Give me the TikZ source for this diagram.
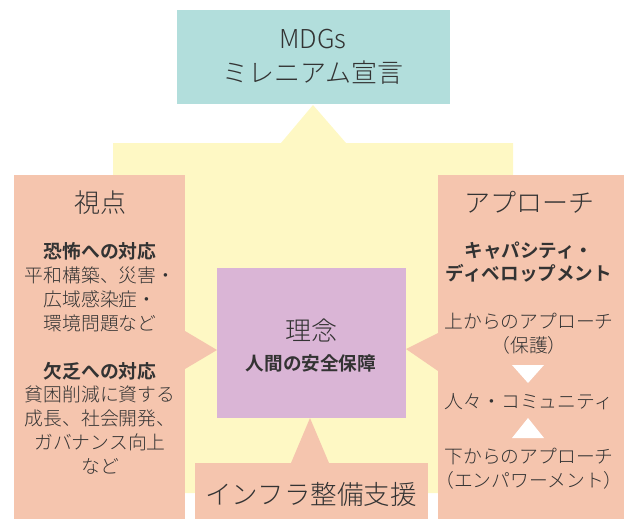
\documentclass[tikz,border=0pt]{standalone}
\usepackage{fontspec}
\setmainfont{Noto Sans CJK JP Light}[BoldFont={Noto Sans CJK JP Bold}]
\definecolor{tealbox}{HTML}{B2DEDC}
\definecolor{yellowbg}{HTML}{FEF8C4}
\definecolor{salmon}{HTML}{F5C5AE}
\definecolor{purplebox}{HTML}{DAB5D6}
\definecolor{txt}{HTML}{333333}
\begin{document}
\begin{tikzpicture}[x=1pt,y=-1pt,
  box/.style={inner sep=0pt,outer sep=0pt,draw=none,anchor=north west},
  big/.style={text=txt,inner sep=0pt,align=center,font=\fontsize{26}{34}\selectfont},
  small/.style={text=txt,inner sep=0pt,align=center,font=\fontsize{18.8}{23.8}\selectfont},
  smallb/.style={small,font=\fontsize{18.6}{23.8}\selectfont\bfseries},
  pointer/.style={fill=salmon,draw=none}]
\useasboundingbox (0,0) rectangle (624,519);
% yellow background with upward pointer
\fill[yellowbg] (113,493) -- (113,143) -- (281,143) -- (313,105) -- (346,143)
  -- (513,143) -- (513,493) -- cycle;
% boxes
\node[box,fill=tealbox,minimum width=273pt,minimum height=94pt] (mdg) at (177,10) {};
\node[box,fill=salmon,minimum width=171pt,minimum height=344pt] (view) at (14,175) {};
\node[box,fill=salmon,minimum width=186pt,minimum height=344pt] (appr) at (438,175) {};
\node[box,fill=purplebox,minimum width=189pt,minimum height=150pt] (idea) at (217,268) {};
\node[box,fill=salmon,minimum width=233pt,minimum height=56pt] (infra) at (195,463) {};
% pointers into the central box
\fill[pointer] (view.east |- 0,331) -- (idea.west |- 0,350) -- (view.east |- 0,369) -- cycle;
\fill[pointer] (appr.west |- 0,333) -- (idea.east |- 0,349) -- (appr.west |- 0,371) -- cycle;
\fill[pointer] (291,0 |- infra.north) -- (310,0 |- idea.south) -- (329,0 |- infra.north) -- cycle;
% texts: top
\node[big] (mdgt) at (313,57) {MDGs\\ミレニアム宣言};
% left
\node[big] (viewt) at (100,203) {視点};
\node[small] (fear) at (100,287) {\textbf{恐怖への対応}\\平和構築、災害・\\広域感染症・\\環境問題など};
\node[small] (want) at (100,418) {\textbf{欠乏への対応}\\貧困削減に資する\\成長、社会開発、\\ガバナンス向上\\など};
% centre
\node[big] (ideat) at (311,330) {理念};
\node[smallb] (hs) at (311,363) {人間の安全保障};
% bottom
\node[big,font=\fontsize{26.5}{30}\selectfont] (infrat) at (311,494) {インフラ整備支援};
% right
\node[big] (apprt) at (529,202) {アプローチ};
\node[smallb] (cd) at (529,262) {キャパシティ・\\ディベロップメント};
\node[small] (topd) at (529,334) {上からのアプローチ\\（保護）};
\node[small] (comm) at (529,402) {人々・コミュニティ};
\node[small] (botu) at (529,469) {下からのアプローチ\\（エンパワーメント）};
\fill[white] (512,365) -- (544,365) -- (528,383) -- cycle;
\fill[white] (528,418) -- (544,438) -- (512,438) -- cycle;
\end{tikzpicture}
\end{document}
